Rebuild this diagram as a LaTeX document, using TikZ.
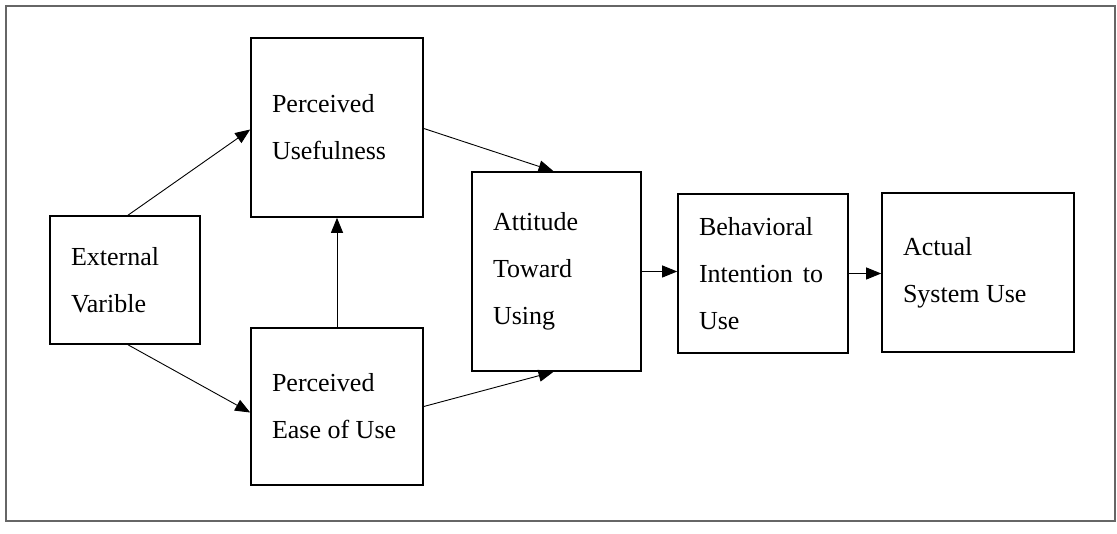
\documentclass[tikz,border=0pt]{standalone}
\usepackage{fontspec}
\setmainfont{Liberation Serif}
\usetikzlibrary{arrows.meta,calc}
\begin{document}
\begin{tikzpicture}[x=1pt,y=-1pt,
  box/.style={draw=black, line width=1.6pt, rectangle, inner xsep=21pt, inner ysep=0pt,
    align=flush left, font=\fontsize{26}{47}\selectfont},
  conn/.style={draw=black, line width=0.9pt, -{Triangle[length=15pt,width=12pt]}},
  frame/.style={draw=black!60, line width=1.6pt}]
\useasboundingbox (0,0) rectangle (1117,534);
\draw[frame] (6,6) rectangle (1115,521);
\node[box, minimum width=150pt, minimum height=128pt, text width=108pt] (EV) at (125,280) {External\\Varible};
\node[box, minimum width=172pt, minimum height=179pt, text width=130pt] (PU) at (337,127.5) {Perceived\\Usefulness};
\node[box, minimum width=172pt, minimum height=157pt, text width=130pt] (PE) at (337,406.5) {Perceived\\Ease of Use};
\node[box, minimum width=169pt, minimum height=199pt, text width=127pt] (AT) at (556.5,271.5) {Attitude\\Toward\\Using};
\node[box, minimum width=170pt, minimum height=159pt, text width=128pt] (BI) at (763,273.5) {Behavioral\\Intention\hspace{10pt}to\\Use};
\node[box, minimum width=192pt, minimum height=159pt, text width=150pt] (AS) at (978,272.5) {Actual\\System Use};
\draw[conn] ([xshift=3pt]EV.north) -- ([yshift=-2pt]PU.west);
\draw[conn] ([xshift=3pt]EV.south) -- ([yshift=-6pt]PE.west);
\draw[conn] (PE.north) -- (PU.south);
\draw[conn] ([yshift=-1pt]PU.east) -- ([xshift=-3pt]AT.north);
\draw[conn] (PE.east) -- ([xshift=-3pt]AT.south);
\draw[conn] (AT.east) -- (AT.east -| BI.west);
\draw[conn] (BI.east) -- (BI.east -| AS.west);
\end{tikzpicture}
\end{document}
